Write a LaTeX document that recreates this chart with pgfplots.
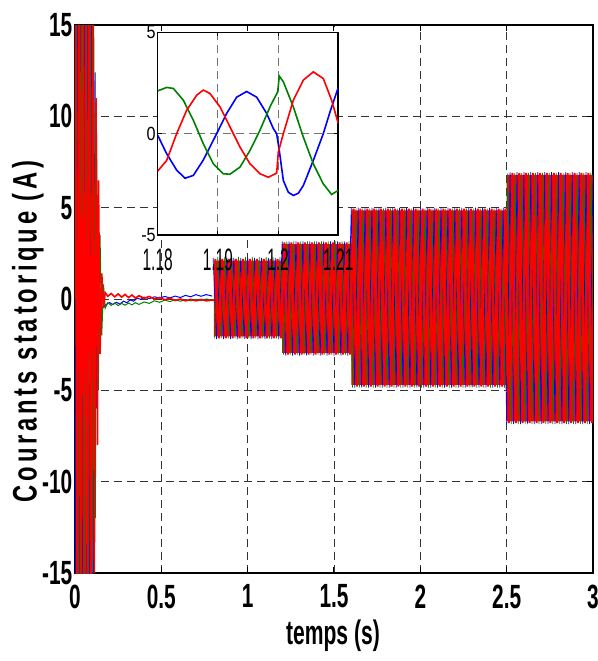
\documentclass[border=0pt]{standalone}
\usepackage{fontspec}
\setmainfont{Liberation Sans}
\usepackage{pgfplots}
\usepackage{pgfplotstable}
\pgfplotsset{compat=1.18}

\definecolor{mblue}{rgb}{0,0,1}
\definecolor{mgreen}{rgb}{0,0.5,0}
\definecolor{mred}{rgb}{1,0,0}

% steady-state envelope, one peak per row and phase (tb/b blue, tg/g green, tr/r red)
\pgfplotstableread{
tb b tg g tr r
0.80 2.25 0.807 -2.15 0.813 2.2
0.82 -2.2 0.827 2.3 0.833 -2.15
0.84 2.25 0.847 -2.15 0.853 2.2
0.86 -2.2 0.867 2.3 0.873 -2.15
0.88 2.25 0.887 -2.15 0.893 2.2
0.90 -2.2 0.907 2.3 0.913 -2.15
0.92 2.25 0.927 -2.15 0.933 2.2
0.94 -2.2 0.947 2.3 0.953 -2.15
0.96 2.25 0.967 -2.15 0.973 2.2
0.98 -2.2 0.987 2.3 0.993 -2.15
1.00 2.25 1.007 -2.15 1.013 2.2
1.02 -2.2 1.027 2.3 1.033 -2.15
1.04 2.25 1.047 -2.15 1.053 2.2
1.06 -2.2 1.067 2.3 1.073 -2.15
1.08 2.25 1.087 -2.15 1.093 2.2
1.10 -2.2 1.107 2.3 1.113 -2.15
1.12 2.25 1.127 -2.15 1.133 2.2
1.14 -2.2 1.147 2.3 1.153 -2.15
1.16 2.25 1.167 -2.15 1.173 2.2
1.18 -2.2 1.187 2.3 1.193 -2.15
1.20 3.15 1.207 -3.05 1.213 3.1
1.22 -3.1 1.227 3.15 1.233 -3.05
1.24 3.15 1.247 -3.05 1.253 3.1
1.26 -3.1 1.267 3.15 1.273 -3.05
1.28 3.15 1.287 -3.05 1.293 3.1
1.30 -3.1 1.307 3.15 1.313 -3.05
1.32 3.15 1.327 -3.05 1.333 3.1
1.34 -3.1 1.347 3.15 1.353 -3.05
1.36 3.15 1.367 -3.05 1.373 3.1
1.38 -3.1 1.387 3.15 1.393 -3.05
1.40 3.15 1.407 -3.05 1.413 3.1
1.42 -3.1 1.427 3.15 1.433 -3.05
1.44 3.15 1.447 -3.05 1.453 3.1
1.46 -3.1 1.467 3.15 1.473 -3.05
1.48 3.15 1.487 -3.05 1.493 3.1
1.50 -3.1 1.507 3.15 1.513 -3.05
1.52 3.15 1.527 -3.05 1.533 3.1
1.54 -3.1 1.547 3.15 1.553 -3.05
1.56 3.15 1.567 -3.05 1.573 3.1
1.58 -3.1 1.587 3.15 1.593 -3.05
1.60 5.0 1.607 -4.85 1.613 4.95
1.62 -4.85 1.627 4.95 1.633 -4.8
1.64 5.0 1.647 -4.85 1.653 4.95
1.66 -4.85 1.667 4.95 1.673 -4.8
1.68 5.0 1.687 -4.85 1.693 4.95
1.70 -4.85 1.707 4.95 1.713 -4.8
1.72 5.0 1.727 -4.85 1.733 4.95
1.74 -4.85 1.747 4.95 1.753 -4.8
1.76 5.0 1.767 -4.85 1.773 4.95
1.78 -4.85 1.787 4.95 1.793 -4.8
1.80 5.0 1.807 -4.85 1.813 4.95
1.82 -4.85 1.827 4.95 1.833 -4.8
1.84 5.0 1.847 -4.85 1.853 4.95
1.86 -4.85 1.867 4.95 1.873 -4.8
1.88 5.0 1.887 -4.85 1.893 4.95
1.90 -4.85 1.907 4.95 1.913 -4.8
1.92 5.0 1.927 -4.85 1.933 4.95
1.94 -4.85 1.947 4.95 1.953 -4.8
1.96 5.0 1.967 -4.85 1.973 4.95
1.98 -4.85 1.987 4.95 1.993 -4.8
2.00 5.0 2.007 -4.85 2.013 4.95
2.02 -4.85 2.027 4.95 2.033 -4.8
2.04 5.0 2.047 -4.85 2.053 4.95
2.06 -4.85 2.067 4.95 2.073 -4.8
2.08 5.0 2.087 -4.85 2.093 4.95
2.10 -4.85 2.107 4.95 2.113 -4.8
2.12 5.0 2.127 -4.85 2.133 4.95
2.14 -4.85 2.147 4.95 2.153 -4.8
2.16 5.0 2.167 -4.85 2.173 4.95
2.18 -4.85 2.187 4.95 2.193 -4.8
2.20 5.0 2.207 -4.85 2.213 4.95
2.22 -4.85 2.227 4.95 2.233 -4.8
2.24 5.0 2.247 -4.85 2.253 4.95
2.26 -4.85 2.267 4.95 2.273 -4.8
2.28 5.0 2.287 -4.85 2.293 4.95
2.30 -4.85 2.307 4.95 2.313 -4.8
2.32 5.0 2.327 -4.85 2.333 4.95
2.34 -4.85 2.347 4.95 2.353 -4.8
2.36 5.0 2.367 -4.85 2.373 4.95
2.38 -4.85 2.387 4.95 2.393 -4.8
2.40 5.0 2.407 -4.85 2.413 4.95
2.42 -4.85 2.427 4.95 2.433 -4.8
2.44 5.0 2.447 -4.85 2.453 4.95
2.46 -4.85 2.467 4.95 2.473 -4.8
2.48 5.0 2.487 -4.85 2.493 4.95
2.50 -6.85 2.507 6.9 2.513 -6.8
2.52 6.95 2.527 -6.85 2.533 6.9
2.54 -6.85 2.547 6.9 2.553 -6.8
2.56 6.95 2.567 -6.85 2.573 6.9
2.58 -6.85 2.587 6.9 2.593 -6.8
2.60 6.95 2.607 -6.85 2.613 6.9
2.62 -6.85 2.627 6.9 2.633 -6.8
2.64 6.95 2.647 -6.85 2.653 6.9
2.66 -6.85 2.667 6.9 2.673 -6.8
2.68 6.95 2.687 -6.85 2.693 6.9
2.70 -6.85 2.707 6.9 2.713 -6.8
2.72 6.95 2.727 -6.85 2.733 6.9
2.74 -6.85 2.747 6.9 2.753 -6.8
2.76 6.95 2.767 -6.85 2.773 6.9
2.78 -6.85 2.787 6.9 2.793 -6.8
2.80 6.95 2.807 -6.85 2.813 6.9
2.82 -6.85 2.827 6.9 2.833 -6.8
2.84 6.95 2.847 -6.85 2.853 6.9
2.86 -6.85 2.867 6.9 2.873 -6.8
2.88 6.95 2.887 -6.85 2.893 6.9
2.90 -6.85 2.907 6.9 2.913 -6.8
2.92 6.95 2.927 -6.85 2.933 6.9
2.94 -6.85 2.947 6.9 2.953 -6.8
2.96 6.95 2.967 -6.85 2.973 6.9
2.98 -6.85 2.987 6.9 2.993 -6.8
3.00 6.95 3.007 -6.85 3.013 6.9
}\steady

\begin{document}
\begin{tikzpicture}
\useasboundingbox (-37.5pt,-44pt) rectangle (261.5pt,286.5pt);

\begin{axis}[
  scale only axis, width=259pt, height=274pt,
  xmin=0, xmax=3, ymin=-15, ymax=15,
  xtick={0,0.5,...,3}, ytick={-15,-10,...,15},
  axis line style={line width=0.8pt},
  major tick length=3pt, tick align=inside,
  tick style={black, line width=0.5pt},
  grid=major,
  grid style={black!80, line width=0.4pt, dash pattern=on 4pt off 2.5pt},
  /pgf/number format/assume math mode=true,
  tick label style={font=\fontsize{16.8}{18}\selectfont\bfseries, xscale=0.62},
  xticklabel style={yshift=-2.4pt},
  yticklabel style={inner xsep=2pt},
  xlabel={temps (s)},
  xlabel style={font=\fontsize{17}{18}\selectfont\bfseries, xscale=0.62,
    at={(axis description cs:0.498,0)}, anchor=center, yshift=-31.5pt},
  ylabel={\scalebox{0.7}[1]{\addfontfeatures{LetterSpace=16}Courants statorique (A)}},
  ylabel style={font=\fontsize{17}{18}\selectfont\bfseries,
    at={(axis description cs:-0.091,0.441)}, anchor=center},
]
% dense oscillation seen as a solid band: its envelope
\addplot[fill=mred, draw=none] coordinates {
 (0.004,-16) (0.004,16) (0.104,16) (0.104,-16)} \closedcycle;
\addplot[fill=mred, draw=none] coordinates {
 (0.805,2.1) (1.2,2.1) (1.2,3.0) (1.6,3.0) (1.6,4.85) (2.5,4.85) (2.5,6.8) (3,6.8)
 (3,-6.7) (2.5,-6.7) (2.5,-4.7) (1.6,-4.7) (1.6,-2.95) (1.2,-2.95) (1.2,-2.05) (0.805,-2.05)};
% start-up transient and no-load part
\addplot[mblue, line width=0.5pt] coordinates {
 (0,0) (0.005,-24) (0.015,24) (0.025,-24) (0.035,24) (0.045,-24) (0.055,24)
 (0.065,-24) (0.075,24) (0.085,-23) (0.095,21) (0.105,-18) (0.116,12.4)
 (0.126,-6) (0.136,3) (0.146,-1.5) (0.156,0.6) (0.166,-0.45)
 (0.18,-0.3) (0.20,-0.2) (0.22,-0.3) (0.24,-0.18) (0.26,-0.28) (0.28,-0.12)
 (0.30,-0.2) (0.32,-0.05) (0.34,-0.12) (0.36,0.05) (0.38,-0.02) (0.40,0.1)
 (0.43,0.02) (0.46,0.12) (0.49,0.05) (0.52,0.14) (0.55,0.06) (0.58,0.16)
 (0.61,0.08) (0.64,0.2) (0.67,0.12) (0.70,0.24) (0.73,0.15) (0.76,0.24) (0.795,0.16)};
\addplot[mgreen, line width=0.5pt] coordinates {
 (0,0) (0.008,24) (0.018,-24) (0.028,24) (0.038,-24) (0.048,24) (0.058,-24)
 (0.068,24) (0.078,-24) (0.088,22) (0.098,-20) (0.108,16) (0.118,-12)
 (0.125,9) (0.135,-5) (0.145,3.5) (0.155,-2) (0.165,0.8) (0.175,-0.5)
 (0.19,-0.2) (0.21,-0.35) (0.23,-0.22) (0.25,-0.36) (0.27,-0.24) (0.29,-0.34)
 (0.31,-0.22) (0.33,-0.32) (0.35,-0.2) (0.37,-0.3) (0.40,-0.16) (0.43,-0.24)
 (0.46,-0.1) (0.49,-0.18) (0.52,-0.06) (0.55,-0.14) (0.58,-0.04) (0.61,-0.12)
 (0.64,-0.03) (0.67,-0.1) (0.70,-0.02) (0.73,-0.09) (0.76,0.0) (0.802,-0.06)};
\addplot[mred, line width=0.8pt] coordinates {
 (0,0) (0.002,24) (0.012,-24) (0.022,24) (0.032,-24) (0.042,24) (0.052,-24)
 (0.062,24) (0.072,-24) (0.082,23) (0.092,-22) (0.102,19) (0.112,-15)
 (0.122,11) (0.130,-8) (0.136,6.5) (0.145,-3) (0.155,1.4) (0.165,-0.5)
 (0.175,0.35) (0.19,0.15) (0.21,0.3) (0.23,0.12) (0.25,0.28) (0.27,0.1)
 (0.29,0.25) (0.31,0.08) (0.33,0.22) (0.35,0.05) (0.37,0.18) (0.40,0.04)
 (0.43,0.14) (0.46,0.0) (0.49,0.08) (0.52,-0.04) (0.55,0.04) (0.58,-0.08)
 (0.61,0.0) (0.64,-0.1) (0.67,-0.02) (0.70,-0.1) (0.73,-0.03) (0.76,-0.1) (0.81,-0.05)};
% loaded steps
\addplot[mblue, line width=0.35pt] table[x=tb, y=b] {\steady};
\addplot[mgreen, line width=0.35pt] table[x=tg, y=g] {\steady};
\addplot[mred, line width=1.0pt] table[x=tr, y=r] {\steady};
\end{axis}

% zoom on the load step at 1.2 s
\begin{axis}[
  at={(41.35pt,169pt)}, anchor=south west,
  scale only axis, width=90.3pt, height=101.35pt,
  xmin=1.18, xmax=1.21, ymin=-5, ymax=5,
  xtick={1.18,1.19,1.2,1.21}, ytick={-5,0,5},
  axis background/.style={fill=white},
  axis line style={line width=0.8pt},
  major tick length=2pt, tick align=inside,
  tick style={black, line width=0.5pt},
  grid=major,
  grid style={black!55, line width=0.5pt, dash pattern=on 4pt off 2.5pt},
  /pgf/number format/assume math mode=true,
  xticklabel style={font=\fontsize{15.5}{16}\selectfont, xscale=0.5,
    inner ysep=0.5pt, yshift=-6pt},
  yticklabel style={font=\fontsize{9.5}{10}\selectfont, xscale=0.85,
    inner sep=1pt},
]
\addplot[mblue, line width=0.8pt] coordinates {
 (1.18,-0.08) (1.18149,-0.99) (1.18315,-1.80) (1.18454,-2.20) (1.18592,-2.06)
 (1.18758,-1.30) (1.1898,0.0) (1.19146,1.0) (1.19312,1.8) (1.19478,2.08)
 (1.19644,1.8) (1.1981,1.0) (1.19921,0.25) (1.19976,0.0) (1.2002,-0.83)
 (1.20087,-2.31) (1.2017,-2.89) (1.20253,-3.05) (1.20336,-2.94) (1.20419,-2.56)
 (1.20585,-1.32) (1.20751,0.0) (1.20862,1.07) (1.21,2.28)};
\addplot[mgreen, line width=0.8pt] coordinates {
 (1.18,2.11) (1.18149,2.28) (1.1826,2.23) (1.18426,1.65) (1.18592,0.66)
 (1.18758,-0.5) (1.18924,-1.49) (1.1909,-1.98) (1.19201,-2.0) (1.19367,-1.65)
 (1.19533,-0.83) (1.19699,0.17) (1.19865,1.32) (1.19993,2.06) (1.2002,2.84)
 (1.20087,2.56) (1.20253,1.32) (1.20419,-0.17) (1.20585,-1.49) (1.20751,-2.48)
 (1.20889,-3.0) (1.21,-2.8)};
\addplot[mred, line width=0.8pt] coordinates {
 (1.18,-1.85) (1.18149,-1.32) (1.18315,0.0) (1.18482,1.16) (1.18648,1.9)
 (1.18758,2.15) (1.18869,1.98) (1.19035,1.32) (1.19201,0.33) (1.19367,-0.66)
 (1.19533,-1.49) (1.19699,-1.98) (1.19838,-2.15) (1.19976,-1.95) (1.20004,-0.9)
 (1.20087,0.0) (1.20253,1.65) (1.20419,2.64) (1.20585,3.05) (1.20751,2.72)
 (1.20889,1.65) (1.21,0.5)};
\end{axis}
\end{tikzpicture}
\end{document}
